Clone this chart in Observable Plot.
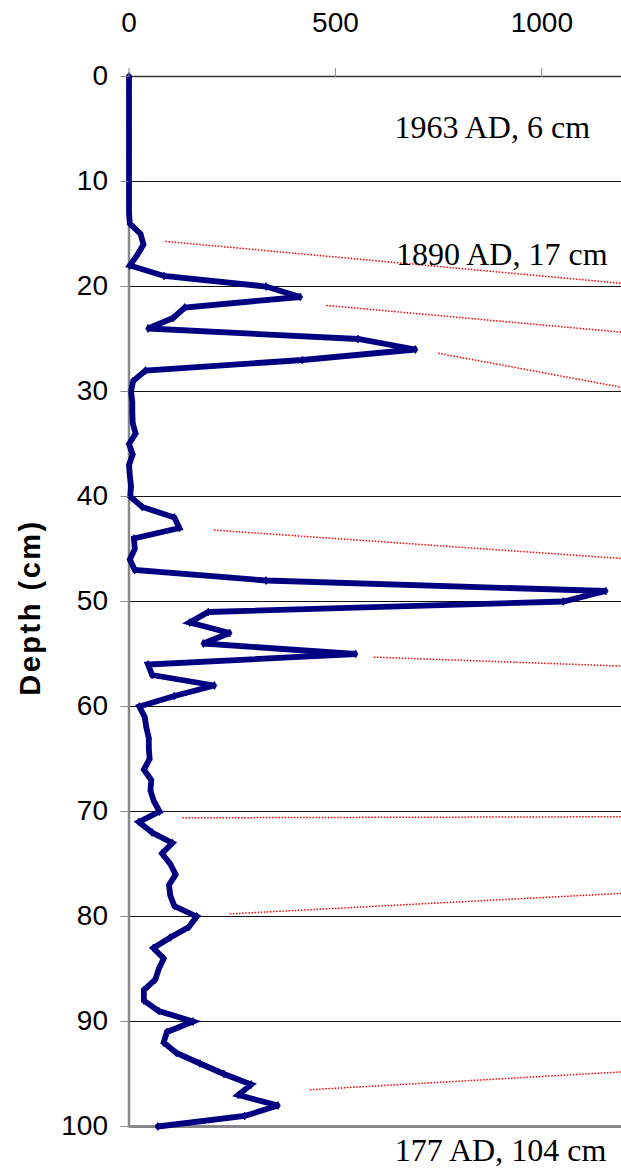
<!DOCTYPE html>
<html>
<head>
<meta charset="utf-8">
<script src="https://cdn.jsdelivr.net/npm/d3@7"></script>
<script src="https://cdn.jsdelivr.net/npm/@observablehq/plot@0.6"></script>
<style>
  html, body { margin: 0; padding: 0; background: #fff; }
  #chart svg { display: block; }
</style>
</head>
<body>
<div id="chart"></div>
<script>
// Depth (cm) and measured value
const depths = d3.range(0, 101);
const values = [
  0, 0, 0, 0, 0, 0, 0, 0, 0, 0,
  0, 0, 0, 0, 2, 28, 35, 20, 2, 85,
  332, 415, 135, 107, 46, 555, 694, 420, 40, 10,
  5, 8, 8, 9, 16, 0, 9, 0, 2, 5,
  3, 32, 110, 122, 12, 14, 2, 14, 332, 1155,
  1052, 192, 147, 244, 180, 549, 46, 56, 207, 110,
  25, 38, 42, 48, 48, 50, 36, 54, 52, 60,
  74, 24, 56, 105, 80, 100, 113, 97, 100, 110,
  164, 145, 100, 59, 84, 72, 64, 36, 36, 72,
  155, 92, 84, 115, 172, 230, 296, 265, 361, 280,
  70
];

// x axis tick values, y axis tick values
const xTicks = [0, 500, 1000];
const yTicks = d3.range(0, 101, 10);

// Red dotted correlation lines
const linkX1 = [88, 478, 749, 206, 593, 129, 244, 438];
const linkY1 = [15.7, 21.8, 26.35, 43.2, 55.3, 70.6, 79.75, 96.5];
const linkX2 = [1193, 1193, 1193, 1193, 1193, 1193, 1193, 1193];
const linkY2 = [19.7, 24.35, 29.6, 45.9, 56.15, 70.5, 77.8, 94.8];

// Date annotations
const labelText = ["1963 AD, 6 cm", "1890 AD, 17 cm", "177 AD, 104 cm"];
const labelX = [880, 903, 900];
const labelY = [4.9, 17.0, 102.3];

const yTitle = "Depth (cm)";

const series = depths.map((d, i) => ({depth: d, value: values[i]}));
const links = linkX1.map((x, i) => ({x1: x, y1: linkY1[i], x2: linkX2[i], y2: linkY2[i]}));
const labels = labelText.map((t, i) => ({t, x: labelX[i], y: labelY[i]}));

const chart = Plot.plot({
  width: 621,
  height: 1170,
  marginTop: 76,
  marginBottom: 44,
  marginLeft: 128.5,
  marginRight: 0,
  style: {background: "#fff"},
  x: {domain: [0, 1193]},
  y: {domain: [0, 100], reverse: true},
  marks: [
    Plot.ruleY(yTicks, {stroke: "#111", strokeWidth: 1}),
    Plot.ruleY([100], {stroke: "#888", strokeWidth: 3}),
    Plot.ruleX([0], {stroke: "#888", strokeWidth: 2.5}),
    Plot.ruleY([0], {stroke: "#333", strokeWidth: 1.5}),
    Plot.link(links, {x1: "x1", y1: "y1", x2: "x2", y2: "y2", stroke: "#ff0000", strokeWidth: 1.5, strokeDasharray: "1.5 1.6"}),
    Plot.line(series, {x: "value", y: "depth", stroke: "#000080", strokeWidth: 5.8, strokeLinejoin: "miter", strokeMiterlimit: 3}),
    Plot.dot(series, {x: "value", y: "depth", r: 2.4, fill: "#000080", stroke: "#000080", strokeWidth: 0.8, symbol: "diamond"}),
    Plot.text(labels, {x: "x", y: "y", text: "t", fontFamily: "Liberation Serif, Times New Roman, serif", fontSize: 32, fill: "#000", clip: false}),
    Plot.axisX({anchor: "top", ticks: xTicks, tickFormat: d => String(d), tickSize: 9, tickPadding: 36, stroke: "#888", fontSize: 28, fontFamily: "Liberation Sans, Arial, sans-serif", fill: "#000", label: null}),
    Plot.axisY({anchor: "left", ticks: yTicks, tickSize: 8, tickPadding: 13, stroke: "#888", fontSize: 28, fontFamily: "Liberation Sans, Arial, sans-serif", fill: "#000", label: null}),
    Plot.text([yTitle], {frameAnchor: "left", textAnchor: "middle", dx: -98, dy: 6, rotate: -90, fontSize: 29, fontWeight: "bold", fontFamily: "Liberation Sans, Arial, sans-serif", fill: "#000"})
  ]
});

d3.select(chart).selectAll("text").filter(function() { return this.textContent === yTitle; })
  .attr("letter-spacing", "2.5px");

document.getElementById("chart").appendChild(chart);
</script>
</body>
</html>
